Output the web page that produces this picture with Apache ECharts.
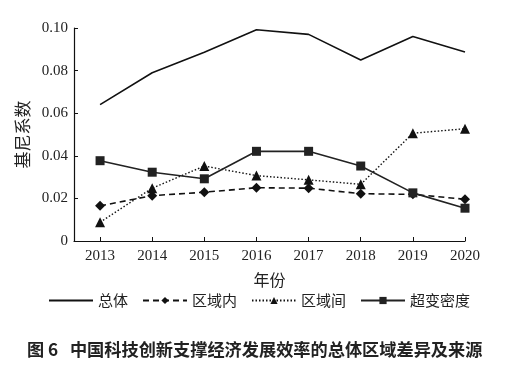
<!DOCTYPE html>
<html><head><meta charset="utf-8">
<script src="https://cdn.jsdelivr.net/npm/echarts@6/dist/echarts.min.js"></script>
<style>html,body{margin:0;padding:0;background:#fff}#c{width:518px;height:370px}</style>
</head><body><div id="c"></div>
<script>
var years = [2013, 2014, 2015, 2016, 2017, 2018, 2019, 2020];
var zongti = [0.064, 0.079, 0.0886, 0.0992, 0.0970, 0.0850, 0.0960, 0.0887];
var quyunei = [0.0165, 0.0213, 0.0229, 0.0250, 0.0248, 0.0222, 0.0219, 0.0196];
var quyujian = [0.0088, 0.0248, 0.0352, 0.0307, 0.0287, 0.0266, 0.0506, 0.0527];
var chaobian = [0.0377, 0.0323, 0.0292, 0.0421, 0.0421, 0.0352, 0.0226, 0.0154];
var yTicks = [0, 0.02, 0.04, 0.06, 0.08, 0.10];

function pairs(v){ return years.map(function(y,i){ return [y, v[i]]; }); }
var serif = 'Liberation Serif';
var cjk = 'Noto Sans CJK SC';
var black = '#111';
var chart = echarts.init(document.getElementById('c'));
chart.setOption({
  animation: false,
  title: {
    text: '图 6   中国科技创新支撑经济发展效率的总体区域差异及来源',
    left: 22, top: 336,
    textStyle: {fontFamily: cjk, fontSize: 17.2, fontWeight: 'bold', color: '#222'}
  },
  grid: {left: 74, right: 53, top: 28, bottom: 129},
  legend: {
    top: 288, left: 'center',
    itemWidth: 44, itemHeight: 9, itemGap: 14,
    textStyle: {fontFamily: cjk, fontSize: 15, color: '#222'},
    data: [{name: '总体', itemStyle: {opacity: 0}}, '区域内', '区域间', '超变密度']
  },
  xAxis: {
    type: 'value', min: 2012.5, max: 2020,
    name: '年份', nameLocation: 'middle', nameGap: 31,
    nameTextStyle: {fontFamily: cjk, fontSize: 16, color: '#222'},
    axisLine: {lineStyle: {color: black, width: 1.2}},
    axisTick: {inside: true, length: 4, customValues: years, lineStyle: {color: black}},
    axisLabel: {customValues: years, fontFamily: serif, fontSize: 15, color: '#222', margin: 8,
      formatter: function(v){ return String(v); }},
    splitLine: {show: false}
  },
  yAxis: {
    type: 'value', min: 0, max: 0.10, interval: 0.02,
    name: '基尼系数', nameLocation: 'middle', nameGap: 37,
    nameTextStyle: {fontFamily: cjk, fontSize: 17, color: '#222'},
    axisLine: {show: true, lineStyle: {color: black, width: 1.2}},
    axisTick: {show: true, inside: true, length: 4, lineStyle: {color: black}},
    axisLabel: {fontFamily: serif, fontSize: 15, color: '#222', margin: 6,
      formatter: function(v){ return v === 0 ? '0' : v.toFixed(2); }},
    splitLine: {show: false}
  },
  series: [
    {name: '总体', type: 'line', data: pairs(zongti), symbol: 'none',
     lineStyle: {color: black, width: 1.6, type: 'solid'}, itemStyle: {color: black}},
    {name: '区域内', type: 'line', data: pairs(quyunei), symbol: 'diamond', symbolSize: 10,
     lineStyle: {color: black, width: 1.6, type: [6, 4]}, itemStyle: {color: black}},
    {name: '区域间', type: 'line', data: pairs(quyujian), symbol: 'triangle', symbolSize: 10,
     lineStyle: {color: black, width: 1.4, type: [1.5, 2]}, itemStyle: {color: black}},
    {name: '超变密度', type: 'line', data: pairs(chaobian), symbol: 'rect', symbolSize: 9,
     lineStyle: {color: '#222', width: 1.6, type: 'solid'}, itemStyle: {color: '#222'}}
  ]
});
</script></body></html>
